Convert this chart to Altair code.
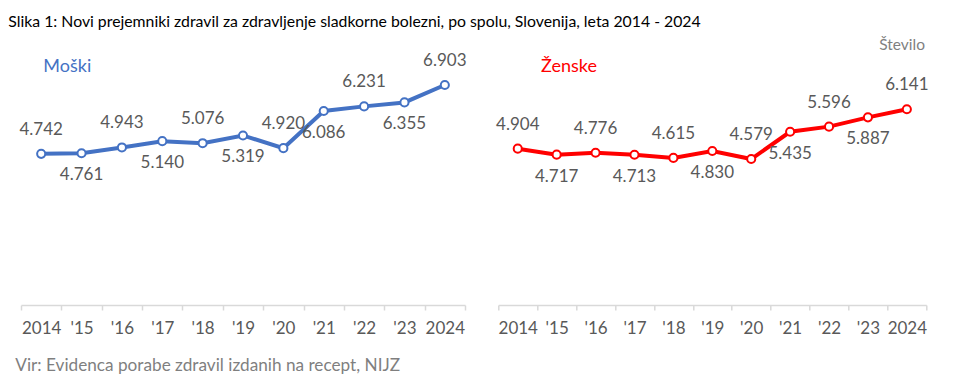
import altair as alt
import pandas as pd

years = ["2014", "'15", "'16", "'17", "'18", "'19", "'20", "'21", "'22", "'23", "2024"]
male = [4742, 4761, 4943, 5140, 5076, 5319, 4920, 6086, 6231, 6355, 6903]
female = [4904, 4717, 4776, 4713, 4615, 4830, 4579, 5435, 5596, 5887, 6141]

title_text = "Slika 1: Novi prejemniki zdravil za zdravljenje sladkorne bolezni, po spolu, Slovenija, leta 2014 - 2024"
source_text = "Vir: Evidenca porabe zdravil izdanih na recept, NIJZ"
unit_text = "Število"

FONT = "Lato"
GRAY = "#595959"
BLUE = "#4472C4"
RED = "#FF0000"
H = 255


def note(text, color, size, x, y, align="left"):
    return alt.Chart(pd.DataFrame({"t": [text]})).mark_text(
        align=align, baseline="alphabetic", color=color, font=FONT, fontSize=size
    ).encode(text="t:N", x=alt.value(x), y=alt.value(y))


def panel(values, color, name, width, extras):
    df = pd.DataFrame({"year": years, "value": values, "idx": list(range(len(years)))})
    base = alt.Chart(df).transform_calculate(
        lab="replace(format(datum.value, ','), ',', '.')"
    ).encode(
        x=alt.X("year:N", sort=years,
                scale=alt.Scale(paddingInner=0, paddingOuter=0),
                axis=alt.Axis(title=None, labelAngle=0, tickBand="extent",
                              domainColor="#d9d9d9", tickColor="#d9d9d9",
                              domainWidth=1.5, tickWidth=1.5, tickSize=5,
                              labelColor=GRAY, labelFont=FONT, labelFontSize=17,
                              labelPadding=10, grid=False)),
        y=alt.Y("value:Q", scale=alt.Scale(domain=[0, 8000]), axis=None),
    )
    line = base.mark_line(color=color, strokeWidth=4)
    pts = base.mark_point(shape="circle", filled=True, fill="white", stroke=color,
                          strokeWidth=2, size=66, opacity=1)
    above = base.transform_filter("datum.idx % 2 == 0").mark_text(
        baseline="alphabetic", dy=-19, color=GRAY, font=FONT, fontSize=17
    ).encode(text="lab:N")
    below = base.transform_filter("datum.idx % 2 == 1").mark_text(
        baseline="alphabetic", dy=27, color=GRAY, font=FONT, fontSize=17
    ).encode(text="lab:N")
    layers = [line, pts, above, below, note(name, color, 18, extras["nx"], 22)] + extras["more"]
    return alt.layer(*layers).properties(
        width=width, height=H,
        view=alt.ViewBackground(stroke="transparent", strokeWidth=0),
    )


left = panel(male, BLUE, "Moški", 444, {
    "nx": 22.3,
    "more": [note(title_text, "#000000", 15.8, -12.7, -23),
             note(source_text, "#7f7f7f", 17.2, -5.7, 321)],
})
right = panel(female, RED, "Ženske", 428, {
    "nx": 42.7,
    "more": [note(unit_text, "#7f7f7f", 15.5, 426.7, 0, align="right")],
})

chart = alt.hconcat(left, right, spacing=33.3, bounds="flush").properties(
    padding={"left": 0, "top": 6, "right": 5, "bottom": 5}
).configure_view(stroke="transparent", strokeWidth=0).configure(background="white")

chart.save("out.html", embed_options={"renderer": "svg", "actions": False})
